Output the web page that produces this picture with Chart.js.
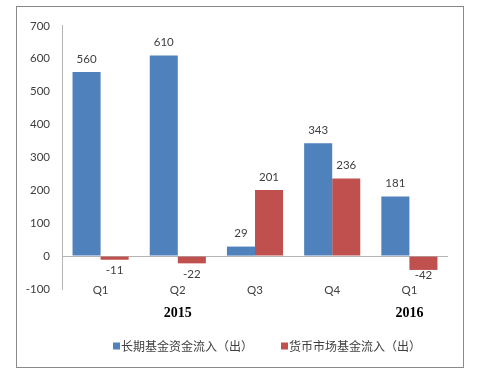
<!DOCTYPE html>
<html>
<head>
<meta charset="utf-8">
<script src="https://cdn.jsdelivr.net/npm/chart.js@4/dist/chart.umd.min.js"></script>
<style>
  html, body { margin: 0; padding: 0; background: #fff; }
  #frame {
    position: absolute; left: 16px; top: 6px;
    width: 446px; height: 360px;
    border: 1px solid #8a8a8a;
  }
  canvas { display: block; }
</style>
</head>
<body>
<div id="frame"><canvas id="fundChart" width="446" height="360"></canvas></div>
<script>
// chart data
const quarters = ['Q1', 'Q2', 'Q3', 'Q4', 'Q1'];
const years = ['', '2015', '', '', '2016'];
const longTermFlow = [560, 610, 29, 343, 181];
const moneyMarketFlow = [-11, -22, 201, 236, -42];
const seriesNames = ['长期基金资金流入（出）', '货币市场基金流入（出）'];
const yMin = -100, yMax = 700, yStep = 100;

const BLUE = '#4F81BD';
const RED = '#C0504D';
const TEXT = '#404040';
const NUM_FONT = 'Lato, "Open Sans", sans-serif';

// value labels above / below each bar
const valueLabels = {
    id: 'valueLabels',
    afterDatasetsDraw(chart) {
        const ctx = chart.ctx;
        ctx.save();
        ctx.font = '11.5px ' + NUM_FONT;
        ctx.fillStyle = TEXT;
        ctx.textAlign = 'center';
        ctx.textBaseline = 'middle';
        chart.data.datasets.forEach((ds, i) => {
            chart.getDatasetMeta(i).data.forEach((bar, j) => {
                const v = ds.data[j];
                let y;
                if (v >= 0) {
                    y = bar.y - 13;
                } else {
                    y = Math.min(bar.y + 11, chart.chartArea.bottom - 14);
                }
                ctx.fillText(String(v), bar.x, y);
            });
        });
        ctx.restore();
    }
};

// legend drawn by hand so the spacing matches
const bottomLegend = {
    id: 'bottomLegend',
    afterDraw(chart) {
        const ctx = chart.ctx;
        const cy = 339;
        let x = 96;
        ctx.save();
        ctx.font = '12px "Noto Sans CJK SC", sans-serif';
        ctx.textBaseline = 'middle';
        ctx.textAlign = 'left';
        chart.data.datasets.forEach(ds => {
            ctx.fillStyle = ds.backgroundColor;
            ctx.fillRect(x, cy - 3.5, 7, 7);
            ctx.fillStyle = TEXT;
            ctx.fillText(ds.label, x + 8, cy);
            x += 8 + ctx.measureText(ds.label).width + 28;
        });
        ctx.restore();
    }
};

const ctx = document.getElementById('fundChart').getContext('2d');
new Chart(ctx, {
    type: 'bar',
    data: {
        labels: quarters,
        datasets: [
            { label: seriesNames[0], data: longTermFlow, backgroundColor: BLUE },
            { label: seriesNames[1], data: moneyMarketFlow, backgroundColor: RED }
        ]
    },
    options: {
        responsive: false,
        animation: false,
        categoryPercentage: 0.727,
        barPercentage: 1,
        layout: { padding: { left: 0, right: 15, top: 13, bottom: 40 } },
        plugins: {
            legend: { display: false },
            tooltip: { enabled: false }
        },
        scales: {
            x: {
                weight: 0,
                grid: { display: false, drawTicks: false },
                border: { display: false },
                // mirror keeps the labels level with the -100 tick without clipping
                ticks: { color: TEXT, font: { family: NUM_FONT, size: 11.5 }, mirror: true, padding: -8 },
                afterFit: s => { s.height = 14; }
            },
            year: {
                type: 'category',
                position: 'bottom',
                labels: years,
                offset: true,
                weight: 1,
                grid: { display: false, drawTicks: false },
                border: { display: false },
                ticks: {
                    color: '#000',
                    autoSkip: false,
                    maxRotation: 0,
                    font: { family: '"Liberation Serif", serif', size: 14, weight: 'bold' },
                    padding: 2
                },
                afterFit: s => { s.height = 24; }
            },
            y: {
                min: yMin,
                max: yMax,
                ticks: {
                    stepSize: yStep,
                    color: TEXT,
                    font: { family: NUM_FONT, size: 11.5 },
                    padding: 12
                },
                grid: {
                    drawTicks: false,
                    color: c => (c.tick && c.tick.value === 0 ? '#b4b4b4' : 'rgba(0,0,0,0)')
                },
                border: { display: true, color: '#b4b4b4' },
                afterFit: s => { s.width = 45; }
            }
        }
    },
    plugins: [valueLabels, bottomLegend]
});
</script>
</body>
</html>
